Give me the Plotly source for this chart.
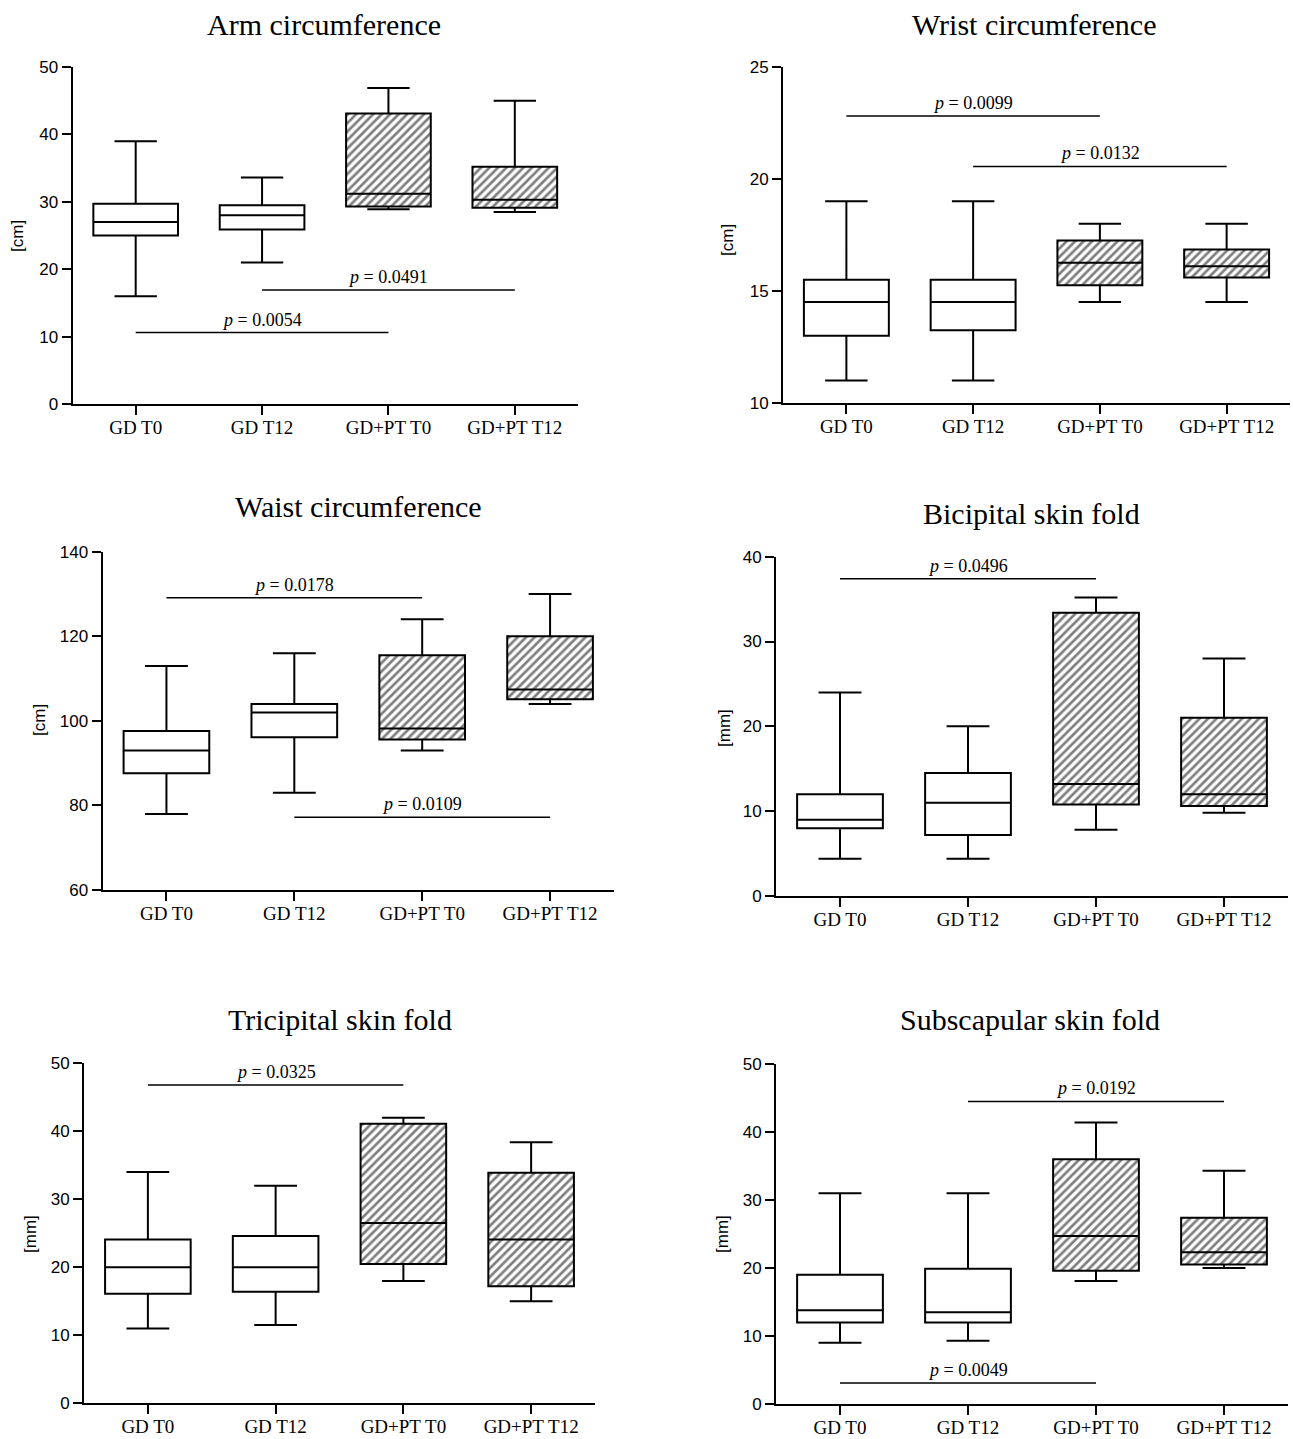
import plotly.graph_objects as go

W, H = 1293, 1439

categories = ["GD T0", "GD T12", "GD+PT T0", "GD+PT T12"]

# Arm circumference [cm]
arm_min = [16, 21, 28.9, 28.5]
arm_q1 = [25, 25.9, 29.3, 29.1]
arm_med = [27, 28, 31.2, 30.3]
arm_q3 = [29.7, 29.5, 43.1, 35.2]
arm_max = [39, 33.6, 46.9, 45]
arm_ticks = [0, 10, 20, 30, 40, 50]
arm_comps = [(0, 2, 10.6, "0.0054"), (1, 3, 16.9, "0.0491")]

# Wrist circumference [cm]
wrist_min = [11, 11, 14.5, 14.5]
wrist_q1 = [13, 13.25, 15.25, 15.6]
wrist_med = [14.5, 14.5, 16.25, 16.1]
wrist_q3 = [15.5, 15.5, 17.25, 16.85]
wrist_max = [19, 19, 18, 18]
wrist_ticks = [10, 15, 20, 25]
wrist_comps = [(0, 2, 22.8, "0.0099"), (1, 3, 20.55, "0.0132")]

# Waist circumference [cm]
waist_min = [78, 83, 93, 104]
waist_q1 = [87.6, 96.1, 95.6, 105.1]
waist_med = [93, 102, 98.2, 107.4]
waist_q3 = [97.6, 104, 115.5, 120]
waist_max = [113, 116, 124, 130]
waist_ticks = [60, 80, 100, 120, 140]
waist_comps = [(0, 2, 129.1, "0.0178"), (1, 3, 77.2, "0.0109")]

# Bicipital skin fold [mm]
bic_min = [4.4, 4.4, 7.8, 9.8]
bic_q1 = [8, 7.2, 10.8, 10.6]
bic_med = [9, 11, 13.2, 12]
bic_q3 = [12, 14.5, 33.4, 21]
bic_max = [24, 20, 35.2, 28]
bic_ticks = [0, 10, 20, 30, 40]
bic_comps = [(0, 2, 37.4, "0.0496")]

# Tricipital skin fold [mm]
tri_min = [11, 11.5, 18, 15]
tri_q1 = [16.1, 16.4, 20.5, 17.2]
tri_med = [20, 20, 26.5, 24.1]
tri_q3 = [24.1, 24.6, 41.1, 33.9]
tri_max = [34, 32, 42, 38.4]
tri_ticks = [0, 10, 20, 30, 40, 50]
tri_comps = [(0, 2, 46.8, "0.0325")]

# Subscapular skin fold [mm]
sub_min = [9, 9.3, 18.1, 20]
sub_q1 = [12, 12, 19.6, 20.5]
sub_med = [13.8, 13.5, 24.7, 22.3]
sub_q3 = [19, 19.9, 36, 27.4]
sub_max = [31, 31, 41.4, 34.3]
sub_ticks = [0, 10, 20, 30, 40, 50]
sub_comps = [(1, 3, 44.5, "0.0192"), (0, 2, 3.1, "0.0049")]

hatched = [False, False, True, True]

data_panels = [
    ("Arm circumference", "[cm]", arm_min, arm_q1, arm_med, arm_q3, arm_max, arm_ticks, arm_comps),
    ("Wrist circumference", "[cm]", wrist_min, wrist_q1, wrist_med, wrist_q3, wrist_max, wrist_ticks, wrist_comps),
    ("Waist circumference", "[cm]", waist_min, waist_q1, waist_med, waist_q3, waist_max, waist_ticks, waist_comps),
    ("Bicipital skin fold", "[mm]", bic_min, bic_q1, bic_med, bic_q3, bic_max, bic_ticks, bic_comps),
    ("Tricipital skin fold", "[mm]", tri_min, tri_q1, tri_med, tri_q3, tri_max, tri_ticks, tri_comps),
    ("Subscapular skin fold", "[mm]", sub_min, sub_q1, sub_med, sub_q3, sub_max, sub_ticks, sub_comps),
]

# pixel layout of each panel: plot area (left, right, top, bottom), title center, unit label center
layout_px = [
    dict(area=(72.5, 578, 67, 404), title=(324, 24), unit=(17, 236)),
    dict(area=(783, 1290, 66.7, 403), title=(1034, 24), unit=(728, 240)),
    dict(area=(102.5, 614, 551.7, 890), title=(358, 507), unit=(39, 720)),
    dict(area=(776, 1288, 556.7, 896), title=(1031, 513), unit=(724, 728)),
    dict(area=(84, 595, 1063.3, 1403.3), title=(340, 1019), unit=(30, 1234)),
    dict(area=(776, 1288, 1064, 1404), title=(1030, 1020), unit=(722, 1234)),
]


def px_x(x):
    return x / W


def px_y(y):
    return 1 - y / H


SERIF = "Liberation Serif"
SANS = "Liberation Sans"
BOXW = 0.67

fig = go.Figure()
shapes = []
annotations = []
layout_axes = {}

for i, (panel, lp) in enumerate(zip(data_panels, layout_px), start=1):
    title, unit, mn, q1, med, q3, mx, ticks, comps = panel
    xa, ya = f"x{i}", f"y{i}"

    hx = [c for c, h in zip(categories, hatched) if h]
    hb = [b for b, h in zip(q1, hatched) if h]
    hh = [t - b for t, b, h in zip(q3, q1, hatched) if h]
    fig.add_trace(go.Bar(
        x=hx, y=hh, base=hb, width=BOXW, xaxis=xa, yaxis=ya,
        marker=dict(color="white", line=dict(width=0),
                    pattern=dict(shape="/", fgcolor="black", bgcolor="white",
                                 size=6, solidity=0.45)),
        showlegend=False, hoverinfo="skip"))

    fig.add_trace(go.Box(
        x=categories, q1=q1, median=med, q3=q3, lowerfence=mn, upperfence=mx,
        width=BOXW, whiskerwidth=0.5, boxpoints=False,
        line=dict(color="black", width=2), fillcolor="rgba(0,0,0,0)",
        xaxis=xa, yaxis=ya, showlegend=False, hoverinfo="skip"))

    for c0, c1, yv, lab in comps:
        shapes.append(dict(type="line", xref=xa, yref=ya, x0=c0, x1=c1, y0=yv, y1=yv,
                           line=dict(color="black", width=1.5)))
        annotations.append(dict(xref=xa, yref=ya, x=(c0 + c1) / 2, y=yv,
                                text=f"<i>p</i> = {lab}", showarrow=False,
                                yanchor="bottom", yshift=1,
                                font=dict(family=SERIF, size=18, color="black")))

    l, r, t, b = lp["area"]
    axis_common = dict(showgrid=False, zeroline=False, showline=True, linecolor="black",
                       linewidth=2, ticks="outside", tickcolor="black", tickwidth=2,
                       ticklen=9, automargin=False)
    layout_axes[f"xaxis{i}"] = dict(
        axis_common, domain=[px_x(l), px_x(r)], anchor=ya, type="category",
        categoryorder="array", categoryarray=categories, range=[-0.5, 3.5],
        ticklabelstandoff=-4,
        tickfont=dict(family=SERIF, size=19, color="black"))
    layout_axes[f"yaxis{i}"] = dict(
        axis_common, domain=[px_y(b), px_y(t)], anchor=xa,
        range=[ticks[0], ticks[-1]], tickvals=ticks,
        tickfont=dict(family=SANS, size=17, color="black"))

    tx, ty = lp["title"]
    annotations.append(dict(xref="paper", yref="paper", x=px_x(tx), y=px_y(ty),
                            text=title, showarrow=False, xanchor="center", yanchor="middle",
                            font=dict(family=SERIF, size=30, color="black")))
    ux, uy = lp["unit"]
    annotations.append(dict(xref="paper", yref="paper", x=px_x(ux), y=px_y(uy),
                            text=unit, showarrow=False, textangle=-90,
                            xanchor="center", yanchor="middle",
                            font=dict(family=SANS, size=17, color="black")))

fig.update_layout(
    width=W, height=H, margin=dict(l=0, r=0, t=0, b=0, pad=0, autoexpand=False),
    paper_bgcolor="white", plot_bgcolor="white",
    showlegend=False, bargap=0, boxmode="overlay",
    shapes=shapes, annotations=annotations,
    **layout_axes)

fig.write_html(
    "out.html",
    config={"displayModeBar": False},
    post_script=(
        "document.documentElement.style.margin='0';"
        "document.documentElement.style.overflow='hidden';"
        "document.body.style.margin='0';document.body.style.padding='0';"
        "document.body.style.overflow='hidden';"
        "var gd=document.getElementById('{plot_id}');"
        "gd.style.position='fixed';gd.style.left='0px';gd.style.top='0px';"
    ),
)
